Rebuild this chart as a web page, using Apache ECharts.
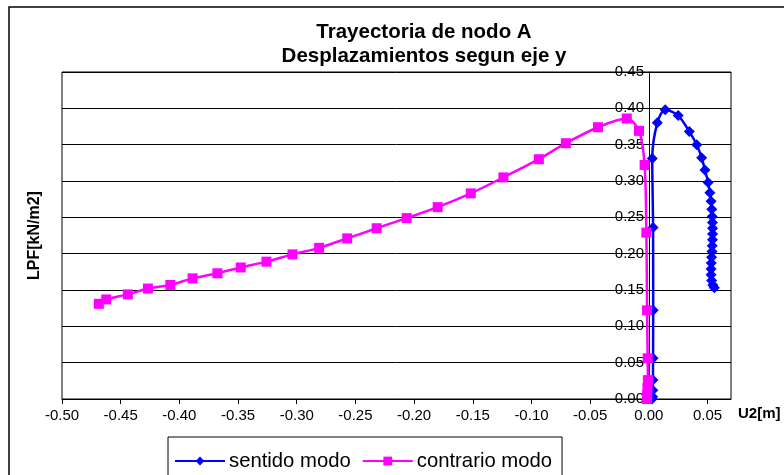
<!DOCTYPE html>
<html>
<head>
<meta charset="utf-8">
<script src="https://cdn.jsdelivr.net/npm/echarts@6/dist/echarts.min.js"></script>
<style>
    html,body{margin:0;padding:0;background:#fff;}
    #chart{width:784px;height:475px;}
</style>
</head>
<body>
<div id="chart"></div>
<script>
// Trayectoria de nodo A
var sentidoU2  = [0.0027,0.0032,0.0034,0.0035,0.0036,0.0037,0.0036,0.0029,0.0072,0.0140,0.0250,0.0345,0.0408,0.0450,0.0478,0.0505,0.0520,0.0530,0.0536,0.0540,0.0542,0.0543,0.0543,0.0542,0.0540,0.0538,0.0535,0.0532,0.0530,0.0530,0.0535,0.0545,0.0558];
var sentidoLPF = [0.000,0.003,0.012,0.026,0.056,0.122,0.236,0.331,0.380,0.398,0.390,0.368,0.350,0.332,0.315,0.298,0.284,0.272,0.261,0.251,0.243,0.235,0.227,0.219,0.211,0.203,0.195,0.187,0.179,0.171,0.163,0.157,0.153];

var contrarioU2  = [-0.0015,-0.0015,-0.0012,-0.0008,-0.0010,-0.0015,-0.0021,-0.0036,-0.0084,-0.0188,-0.0433,-0.0707,-0.0937,-0.1239,-0.1517,-0.1799,-0.2063,-0.2319,-0.2570,-0.2809,-0.3036,-0.3258,-0.3477,-0.3676,-0.3887,-0.4077,-0.4268,-0.4439,-0.4623,-0.4686];
var contrarioLPF = [0.000,0.005,0.015,0.026,0.056,0.122,0.229,0.322,0.369,0.386,0.374,0.352,0.330,0.305,0.283,0.264,0.249,0.235,0.221,0.208,0.199,0.189,0.181,0.173,0.166,0.157,0.152,0.144,0.137,0.131];

var serieNames = ['sentido modo','contrario modo'];

function pares(xs, ys){
    var out=[];
    for(var i=0;i<xs.length;i++){
        out.push([xs[i], ys[i]]);
    }
    return out;
}

var chart = echarts.init(document.getElementById('chart'));
var fuente = 'Liberation Sans, Arial, sans-serif';

// eje y dibujado sobre U2=0 (el grid va de x=62 a x=731, rango -0.50..0.07)
var gridLeft = 62, gridRight = 53;
var xMin = -0.5, xMax = 0.07;
var anchoGrid = 784 - gridLeft - gridRight;
var desplazY = Math.round((0 - xMin) / (xMax - xMin) * anchoGrid);

var option = {
    animation:false,
    backgroundColor:'#fff',
    textStyle:{fontFamily:fuente,color:'#000'},
    graphic:[{
        type:'rect',
        shape:{x:9,y:7,width:790,height:480},
        style:{fill:'none',stroke:'#000',lineWidth:1.5},
        silent:true
    }],
    title:{
        text:'Trayectoria de nodo A\nDesplazamientos segun eje y',
        left:419,
        top:15,
        textAlign:'center',
        textStyle:{fontFamily:fuente,fontSize:20.5,fontWeight:'bold',color:'#000',lineHeight:24}
    },
    legend:{
        data:serieNames,
        left:168,
        top:437,
        itemWidth:50,
        itemHeight:11,
        itemGap:11,
        borderColor:'#000',
        borderWidth:1,
        borderRadius:0,
        padding:[14,10,14,6],
        textStyle:{fontFamily:fuente,fontSize:20.3,color:'#000',padding:[0,0,0,-1]}
    },
    grid:{
        left:gridLeft,
        right:gridRight,
        top:72,
        bottom:76,
        containLabel:false,
        outerBoundsMode:'none',
        show:true,
        borderColor:'#000',
        borderWidth:1,
        backgroundColor:'#fff'
    },
    xAxis:{
        type:'value',
        min:xMin,
        max:xMax,
        interval:0.05,
        name:'U2[m]',
        nameLocation:'end',
        nameGap:7,
        nameTextStyle:{fontFamily:fuente,fontSize:15,fontWeight:'bold',color:'#000',verticalAlign:'top',padding:[7,0,0,0]},
        axisLine:{lineStyle:{color:'#000',width:1}},
        axisTick:{length:5,lineStyle:{color:'#000'}},
        axisLabel:{
            fontFamily:fuente,fontSize:15,color:'#000',margin:9,
            showMaxLabel:false,
            formatter:function(v){ return v.toFixed(2); }
        },
        splitLine:{show:false}
    },
    yAxis:{
        type:'value',
        min:0,
        max:0.45,
        interval:0.05,
        offset:-desplazY,
        name:'LPF[kN/m2]',
        nameLocation:'middle',
        nameGap:desplazY + gridLeft - 43,
        nameTextStyle:{fontFamily:fuente,fontSize:16,fontWeight:'bold',color:'#000'},
        axisLine:{onZero:false,lineStyle:{color:'#000',width:1}},
        axisTick:{length:5,lineStyle:{color:'#000'}},
        axisLabel:{
            fontFamily:fuente,fontSize:15,color:'#000',margin:5,
            formatter:function(v){ return v.toFixed(2); }
        },
        splitLine:{lineStyle:{color:'#000',width:1}}
    },
    series:[
        {
            name:serieNames[0],
            type:'line',
            data:pares(sentidoU2, sentidoLPF),
            smooth:0.3,
            symbol:'diamond',
            symbolSize:11,
            color:'#0000ff',
            lineStyle:{color:'#0000ff',width:2.5},
            itemStyle:{color:'#0000ff'}
        },
        {
            name:serieNames[1],
            type:'line',
            data:pares(contrarioU2, contrarioLPF),
            smooth:0.3,
            symbol:'rect',
            symbolSize:10,
            color:'#ff00ff',
            lineStyle:{color:'#ff00ff',width:2.5},
            itemStyle:{color:'#ff00ff'}
        }
    ]
};
chart.setOption(option);
</script>
</body>
</html>
